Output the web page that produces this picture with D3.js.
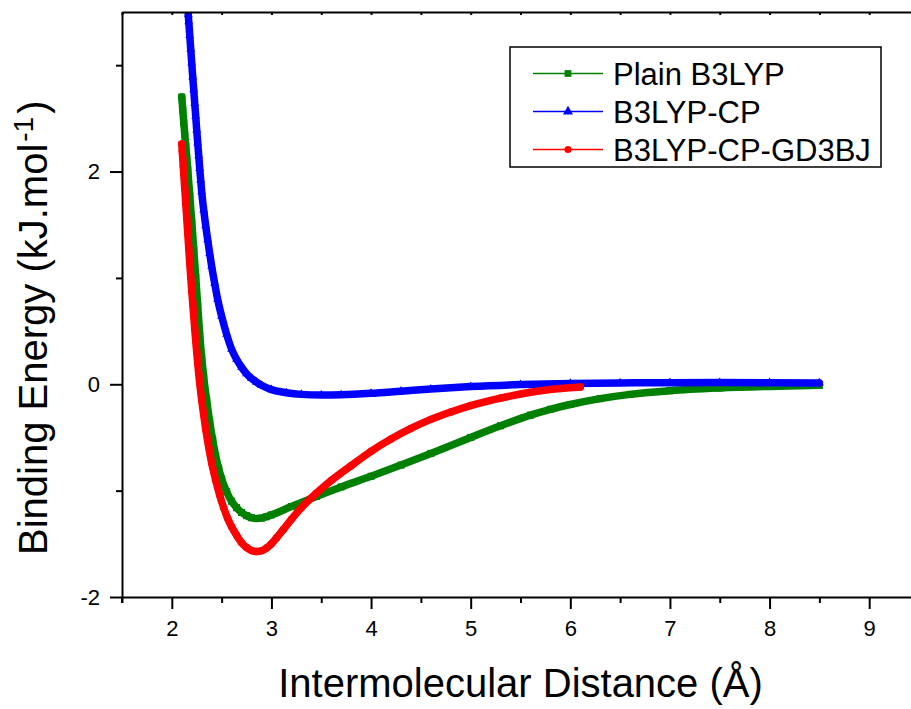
<!DOCTYPE html>
<html><head><meta charset="utf-8">
<script src="https://cdn.jsdelivr.net/npm/d3@7"></script>
<style>
body{margin:0;background:#fff}
text{font-family:"Liberation Sans",Arial,sans-serif;fill:#000}
</style>
</head><body><svg id="c" width="911" height="709"></svg>
<script>
// ---- data ----
const seriesNames = ["Plain B3LYP", "B3LYP-CP", "B3LYP-CP-GD3BJ"];

const greenX = [2.10,2.11,2.12,2.13,2.14,2.15,2.16,2.18,2.20,2.22,2.24,2.26,2.28,2.30,2.32,2.35,2.38,2.41,2.44,2.47,2.50,2.55,2.60,2.65,2.70,2.75,2.80,2.85,2.90,2.95,3.00,3.20,3.45,3.70,4.00,4.30,4.60,5.00,5.30,5.60,5.80,6.00,6.30,6.60,7.00,7.50,8.00,8.50];
const greenY = [2.70,2.58,2.46,2.35,2.24,2.13,2.02,1.78,1.53,1.27,1.01,0.74,0.47,0.25,0.07,-0.15,-0.35,-0.52,-0.67,-0.79,-0.89,-1.01,-1.10,-1.16,-1.205,-1.235,-1.255,-1.262,-1.258,-1.245,-1.228,-1.15,-1.055,-0.965,-0.865,-0.76,-0.65,-0.50,-0.39,-0.29,-0.235,-0.19,-0.135,-0.095,-0.06,-0.035,-0.02,-0.01];

const blueX = [2.165,2.17,2.18,2.19,2.20,2.21,2.22,2.23,2.24,2.25,2.26,2.27,2.28,2.29,2.30,2.32,2.34,2.36,2.38,2.40,2.43,2.46,2.50,2.55,2.60,2.65,2.70,2.75,2.80,2.85,2.90,3.00,3.15,3.30,3.50,3.70,4.00,4.30,4.60,5.00,5.50,6.00,6.50,7.00,7.50,8.00,8.50];
const blueY = [3.48,3.41,3.28,3.15,3.02,2.89,2.77,2.64,2.52,2.39,2.27,2.15,2.03,1.92,1.81,1.64,1.49,1.36,1.23,1.11,0.95,0.80,0.64,0.47,0.33,0.235,0.16,0.10,0.055,0.02,-0.01,-0.05,-0.08,-0.095,-0.10,-0.098,-0.085,-0.065,-0.045,-0.022,-0.003,0.008,0.013,0.015,0.016,0.015,0.013];

const redX = [2.100,2.105,2.110,2.115,2.120,2.130,2.140,2.150,2.160,2.170,2.180,2.190,2.200,2.210,2.220,2.230,2.240,2.250,2.26,2.27,2.28,2.30,2.32,2.34,2.37,2.40,2.44,2.48,2.52,2.56,2.60,2.65,2.70,2.75,2.80,2.85,2.90,2.95,3.00,3.05,3.12,3.20,3.30,3.45,3.60,3.80,4.00,4.20,4.40,4.60,4.80,5.00,5.30,5.60,5.90,6.10];
const redY = [2.26,2.19,2.12,2.05,1.98,1.84,1.70,1.56,1.42,1.28,1.14,1.01,0.88,0.76,0.64,0.52,0.41,0.30,0.20,0.10,0.01,-0.15,-0.29,-0.42,-0.59,-0.74,-0.90,-1.04,-1.16,-1.26,-1.34,-1.42,-1.49,-1.535,-1.562,-1.572,-1.565,-1.54,-1.50,-1.445,-1.365,-1.27,-1.16,-1.025,-0.905,-0.765,-0.63,-0.515,-0.415,-0.33,-0.26,-0.20,-0.13,-0.075,-0.04,-0.025];

const xTicks = [2,3,4,5,6,7,8,9];
const xMinor = [1.5,2.5,3.5,4.5,5.5,6.5,7.5,8.5,9.5];
const yTicks = [-2,0,2];
const yMinor = [-1,1,3];
const xDomain = [1.5, 9.5];
const yDomain = [-2, 3.5];

// ---- layout ----
const svg = d3.select("#c");
const L = 122, T = 12, R = 919, B = 597;
const x = d3.scaleLinear().domain(xDomain).range([L, R]);
const y = d3.scaleLinear().domain(yDomain).range([B, T]);

const series = [
  {name: seriesNames[0], xs: greenX, ys: greenY, color: "#008000", sym: d3.symbolSquare, size: 50},
  {name: seriesNames[1], xs: blueX,  ys: blueY,  color: "#0000ff", sym: d3.symbolTriangle, size: 34},
  {name: seriesNames[2], xs: redX,   ys: redY,   color: "#ff0000", sym: d3.symbolCircle, size: 44}
];

svg.append("defs").append("clipPath").attr("id","clip")
  .append("rect").attr("x", L).attr("y", T).attr("width", R - L).attr("height", B - T);

const plot = svg.append("g").attr("clip-path","url(#clip)");
const line = d3.line().x(d => x(d[0])).y(d => y(d[1])).curve(d3.curveMonotoneX);

series.forEach(s => {
  const pts = s.xs.map((v, i) => [v, s.ys[i]]);
  plot.append("path").datum(pts).attr("d", line)
    .attr("fill","none").attr("stroke", s.color).attr("stroke-width", 7.5)
    .attr("stroke-linejoin","round").attr("stroke-linecap","round");
  plot.selectAll(null).data(pts).enter().append("path")
    .attr("d", d3.symbol().type(s.sym).size(s.size))
    .attr("transform", d => `translate(${x(d[0])},${y(d[1])})`)
    .attr("fill", s.color);
});

// ---- axes ----
const fmt = d => String(d);
const axStyle = g => {
  g.selectAll("path.domain").attr("stroke","#000").attr("stroke-width",2);
  g.selectAll(".tick line").attr("stroke","#000").attr("stroke-width",2);
  g.selectAll(".tick text").style("font-size","22px").style("font-family","'Liberation Sans',Arial,sans-serif");
};

svg.append("g").attr("transform",`translate(0,${B})`)
  .call(d3.axisBottom(x).tickValues(xTicks).tickFormat(fmt).tickSize(12).tickSizeOuter(0).tickPadding(11))
  .call(axStyle);
svg.append("g").attr("transform",`translate(0,${B})`)
  .call(d3.axisBottom(x).tickValues(xMinor).tickFormat("").tickSize(6).tickSizeOuter(0))
  .call(axStyle).select("path.domain").remove();
svg.append("g").attr("transform",`translate(0,${T})`)
  .call(d3.axisTop(x).tickValues(xTicks.concat(xMinor)).tickFormat("").tickSize(-3).tickSizeOuter(0))
  .call(axStyle);
svg.append("g").attr("transform",`translate(${L},0)`)
  .call(d3.axisLeft(y).tickValues(yTicks).tickFormat(fmt).tickSize(12).tickSizeOuter(0).tickPadding(10))
  .call(axStyle);
svg.append("g").attr("transform",`translate(${L},0)`)
  .call(d3.axisLeft(y).tickValues(yMinor).tickFormat("").tickSize(6).tickSizeOuter(0))
  .call(axStyle).select("path.domain").remove();
svg.append("line").attr("x1",L).attr("x2",L).attr("y1",B).attr("y2",B+6).attr("stroke","#000").attr("stroke-width",2);

// ---- titles ----
svg.append("text").attr("x", (L + R) / 2).attr("y", 697).attr("text-anchor","middle")
  .style("font-size","40px").text("Intermolecular Distance (Å)");

const yt = svg.append("text").attr("transform","translate(47,555) rotate(-90)")
  .attr("text-anchor","start").style("font-size","40px");
yt.append("tspan").text("Binding Energy (kJ.mol");
yt.append("tspan").attr("dx", 2).attr("dy", -14).style("font-size","28px").text("-1");
yt.append("tspan").attr("dx", 3).attr("dy", 14).text(")");

// ---- legend ----
const lg = svg.append("g");
lg.append("rect").attr("x",510).attr("y",47).attr("width",371).attr("height",120)
  .attr("fill","#fff").attr("stroke","#000").attr("stroke-width",1.5);
const legY = [73.5, 111.5, 149.5];
const legSize = [46, 44, 40];
series.forEach((s, i) => {
  lg.append("line").attr("x1",533).attr("x2",603).attr("y1",legY[i]).attr("y2",legY[i])
    .attr("stroke", s.color).attr("stroke-width",1.5);
  lg.append("path").attr("d", d3.symbol().type(s.sym).size(legSize[i]))
    .attr("transform",`translate(568,${legY[i]})`).attr("fill", s.color);
  lg.append("text").attr("x",613).attr("y",legY[i] + 11).style("font-size","31px").text(s.name);
});
</script>
</body></html>
